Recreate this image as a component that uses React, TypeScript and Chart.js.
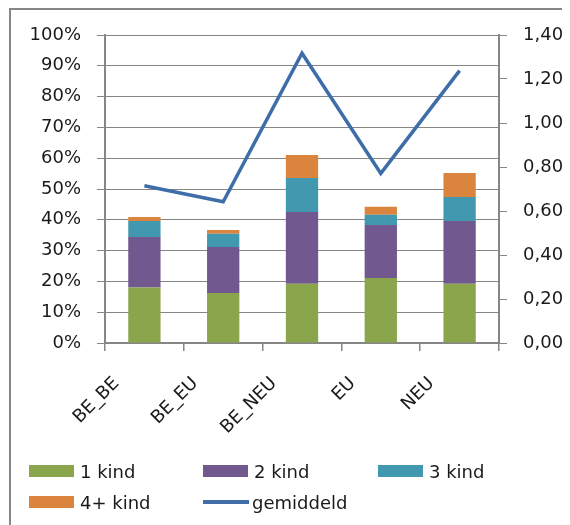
import React, { useEffect, useRef } from "react";
import { Chart, registerables } from "chart.js";

Chart.register(...registerables);

const categories = ["BE_BE", "BE_EU", "BE_NEU", "EU", "NEU"];
const kind1 = [18.0, 16.2, 19.2, 21.1, 19.2];
const kind2 = [16.4, 15.0, 23.3, 17.2, 20.4];
const kind3 = [5.2, 4.3, 11.1, 3.3, 7.8];
const kind4 = [1.3, 1.2, 7.4, 2.6, 7.8];
const gemiddeld = [0.715, 0.642, 1.317, 0.771, 1.238];

const seriesNames = ["1 kind", "2 kind", "3 kind", "4+ kind", "gemiddeld"];
const seriesColors = ["#8aa54c", "#71588f", "#4298ae", "#db843d", "#3e6da8"];

const leftMax = 100;
const leftStep = 10;
const rightMax = 1.4;
const rightStep = 0.2;

const GRID = "#868686";
const FONT = "'DejaVu Sans', sans-serif";
const TEXT = "#1a1a1a";

const CANVAS_W = 562;
const CANVAS_H = 440;

export default function App() {
  const ref = useRef<HTMLCanvasElement | null>(null);

  useEffect(() => {
    if (!ref.current) return;
    const barSets = [kind1, kind2, kind3, kind4].map((d, i) => ({
      type: "bar" as const,
      label: seriesNames[i],
      data: d,
      backgroundColor: seriesColors[i],
      borderWidth: 0,
      yAxisID: "y",
      stack: "s",
      order: 1,
      categoryPercentage: 1,
      barPercentage: 0.41,
    }));
    const chart = new Chart(ref.current, {
      type: "bar",
      data: {
        labels: categories,
        datasets: [
          ...barSets,
          {
            type: "line" as const,
            label: seriesNames[4],
            data: gemiddeld,
            borderColor: seriesColors[4],
            backgroundColor: seriesColors[4],
            borderWidth: 3.5,
            pointRadius: 0,
            tension: 0,
            yAxisID: "y1",
            order: 0,
          },
        ] as any,
      },
      options: {
        animation: false,
        responsive: false,
        devicePixelRatio: 1,
        layout: { padding: { top: 27, left: 0, right: 0, bottom: 0 } },
        plugins: { legend: { display: false }, tooltip: { enabled: false } },
        scales: {
          x: {
            stacked: true,
            offset: true,
            grid: {
              offset: true,
              drawOnChartArea: false,
              drawTicks: true,
              tickLength: 8,
              color: GRID,
              lineWidth: 1.5,
            },
            border: { display: true, color: GRID, width: 2 },
            ticks: {
              autoSkip: false,
              minRotation: 45,
              maxRotation: 45,
              padding: 22,
              labelOffset: -28,
              color: TEXT,
              font: { family: FONT, size: 18 },
            },
            afterFit: (s: any) => {
              s.height = CANVAS_H - 335;
            },
          },
          y: {
            stacked: true,
            position: "left",
            min: 0,
            max: leftMax,
            grid: {
              color: GRID,
              lineWidth: 1,
              drawTicks: true,
              tickLength: 8,
            },
            border: { display: true, color: GRID, width: 2 },
            ticks: {
              stepSize: leftStep,
              padding: 16,
              color: TEXT,
              font: { family: FONT, size: 18 },
              callback: (v: any) => `${v}%`,
            },
            afterFit: (s: any) => {
              s.width = 97;
            },
          },
          y1: {
            position: "right",
            min: 0,
            max: rightMax,
            grid: {
              drawOnChartArea: false,
              color: GRID,
              lineWidth: 1,
              drawTicks: true,
              tickLength: 8,
            },
            border: { display: true, color: GRID, width: 2 },
            ticks: {
              stepSize: rightStep,
              padding: 16,
              color: TEXT,
              font: { family: FONT, size: 18 },
              callback: (v: any) => Number(v).toFixed(2).replace(".", ","),
            },
            afterFit: (s: any) => {
              s.width = CANVAS_W - 491;
            },
          },
        },
      } as any,
    });
    return () => chart.destroy();
  }, []);

  const legendItems = [
    { i: 0, x: 21, y: 463 },
    { i: 1, x: 195, y: 463 },
    { i: 2, x: 370, y: 463 },
    { i: 3, x: 21, y: 494 },
    { i: 4, x: 195, y: 494 },
  ];

  return (
    <div
      style={{
        position: "relative",
        width: CANVAS_W,
        height: 517,
        overflow: "hidden",
        fontFamily: FONT,
      }}
    >
      <canvas
        ref={ref}
        width={CANVAS_W}
        height={CANVAS_H}
        style={{ position: "absolute", left: 0, top: 0, width: CANVAS_W, height: CANVAS_H }}
      />
      <div
        style={{
          position: "absolute",
          left: 1,
          top: 0,
          width: 700,
          height: 700,
          borderLeft: `2px solid ${GRID}`,
          borderTop: `2px solid ${GRID}`,
          pointerEvents: "none",
        }}
      />
      {legendItems.map(({ i, x, y }) => (
        <div
          key={i}
          style={{
            position: "absolute",
            left: x,
            top: y - 12,
            height: 24,
            display: "flex",
            alignItems: "center",
            fontSize: 18,
            color: TEXT,
            whiteSpace: "nowrap",
          }}
        >
          {i < 4 ? (
            <span
              style={{
                display: "inline-block",
                width: 45,
                height: 12,
                background: seriesColors[i],
                marginRight: 6,
              }}
            />
          ) : (
            <span
              style={{
                display: "inline-block",
                width: 46,
                height: 4,
                background: seriesColors[i],
                marginRight: 3,
              }}
            />
          )}
          <span>{seriesNames[i]}</span>
        </div>
      ))}
    </div>
  );
}
